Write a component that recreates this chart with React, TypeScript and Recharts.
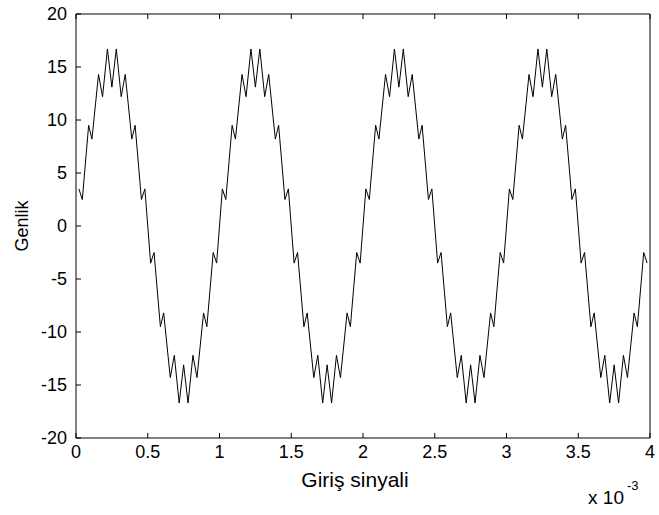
import React from 'react';
import { LineChart, Line, XAxis, YAxis } from 'recharts';

// time in units of 1e-3 s
const TIMES = [
  0.020, 0.044, 0.088, 0.111, 0.157, 0.185, 0.219, 0.250, 0.281, 0.315, 0.343, 0.389, 0.412, 0.456, 0.480,
  0.520, 0.544, 0.588, 0.611, 0.657, 0.685, 0.719, 0.750, 0.781, 0.815, 0.843, 0.889, 0.912, 0.956, 0.980,
  1.020, 1.044, 1.088, 1.111, 1.157, 1.185, 1.219, 1.250, 1.281, 1.315, 1.343, 1.389, 1.412, 1.456, 1.480,
  1.520, 1.544, 1.588, 1.611, 1.657, 1.685, 1.719, 1.750, 1.781, 1.815, 1.843, 1.889, 1.912, 1.956, 1.980,
  2.020, 2.044, 2.088, 2.111, 2.157, 2.185, 2.219, 2.250, 2.281, 2.315, 2.343, 2.389, 2.412, 2.456, 2.480,
  2.520, 2.544, 2.588, 2.611, 2.657, 2.685, 2.719, 2.750, 2.781, 2.815, 2.843, 2.889, 2.912, 2.956, 2.980,
  3.020, 3.044, 3.088, 3.111, 3.157, 3.185, 3.219, 3.250, 3.281, 3.315, 3.343, 3.389, 3.412, 3.456, 3.480,
  3.520, 3.544, 3.588, 3.611, 3.657, 3.685, 3.719, 3.750, 3.781, 3.815, 3.843, 3.889, 3.912, 3.956, 3.980,
];

const AMPLITUDES = [
  3.5, 2.5, 9.5, 8.2, 14.3, 12.2, 16.7, 13.1, 16.7, 12.2, 14.3, 8.2, 9.5, 2.5, 3.5,
  -3.5, -2.5, -9.5, -8.2, -14.3, -12.2, -16.7, -13.1, -16.7, -12.2, -14.3, -8.2, -9.5, -2.5, -3.5,
  3.5, 2.5, 9.5, 8.2, 14.3, 12.2, 16.7, 13.1, 16.7, 12.2, 14.3, 8.2, 9.5, 2.5, 3.5,
  -3.5, -2.5, -9.5, -8.2, -14.3, -12.2, -16.7, -13.1, -16.7, -12.2, -14.3, -8.2, -9.5, -2.5, -3.5,
  3.5, 2.5, 9.5, 8.2, 14.3, 12.2, 16.7, 13.1, 16.7, 12.2, 14.3, 8.2, 9.5, 2.5, 3.5,
  -3.5, -2.5, -9.5, -8.2, -14.3, -12.2, -16.7, -13.1, -16.7, -12.2, -14.3, -8.2, -9.5, -2.5, -3.5,
  3.5, 2.5, 9.5, 8.2, 14.3, 12.2, 16.7, 13.1, 16.7, 12.2, 14.3, 8.2, 9.5, 2.5, 3.5,
  -3.5, -2.5, -9.5, -8.2, -14.3, -12.2, -16.7, -13.1, -16.7, -12.2, -14.3, -8.2, -9.5, -2.5, -3.5,
];

const X_TICKS = [0, 0.5, 1, 1.5, 2, 2.5, 3, 3.5, 4];
const Y_TICKS = [-20, -15, -10, -5, 0, 5, 10, 15, 20];

const data = TIMES.map((t, i) => ({ t, v: AMPLITUDES[i] }));

const FONT = 'Liberation Sans, Arial, sans-serif';
const TICK_FONT = { fontSize: 18, fontFamily: FONT, fill: '#000' };
const AXIS_LINE = { stroke: '#000', strokeWidth: 1 };
const TICK_LINE = { stroke: '#000', strokeWidth: 1 };
// negative tick size turns the tick marks inward, like a matlab box
const TICK_LEN = 5;
const INWARD = -TICK_LEN;
const NoLabel = () => <g />;

const XLabel = (props: any) => {
  const { viewBox } = props;
  const right = viewBox.x + viewBox.width;
  return (
    <g fontFamily={FONT} fill="#000">
      <text x={355} y={viewBox.y + 49} textAnchor="middle" fontSize={21}>Giriş sinyali</text>
      <text x={right - 26} y={viewBox.y + 66} textAnchor="end" fontSize={19}>x 10</text>
      <text x={right - 23} y={viewBox.y + 52} textAnchor="start" fontSize={13}>-3</text>
    </g>
  );
};

const YLabel = (props: any) => {
  const { viewBox } = props;
  const cy = viewBox.y + viewBox.height / 2;
  return (
    <text
      x={22}
      y={cy}
      transform={`rotate(-90 22 ${cy})`}
      textAnchor="middle"
      dominantBaseline="central"
      fontSize={18}
      fontFamily={FONT}
      fill="#000"
    >
      Genlik
    </text>
  );
};

export default function App() {
  return (
    <div style={{ position: 'absolute', left: 0, top: 0, width: 659, height: 515, background: '#fff' }}>
      <LineChart width={659} height={515} data={data} margin={{ top: 13, right: 8, bottom: 0, left: 0 }}>
        <XAxis
          dataKey="t"
          type="number"
          domain={[0, 4]}
          ticks={X_TICKS}
          interval={0}
          axisLine={AXIS_LINE}
          tickLine={TICK_LINE}
          tickSize={INWARD}
          tickMargin={7 + TICK_LEN}
          height={77}
          tick={TICK_FONT}
          label={<XLabel />}
        />
        <XAxis
          xAxisId="top"
          orientation="top"
          dataKey="t"
          type="number"
          domain={[0, 4]}
          ticks={X_TICKS}
          interval={0}
          axisLine={AXIS_LINE}
          tickLine={TICK_LINE}
          tickSize={INWARD}
          height={1}
          tick={<NoLabel />}
        />
        <YAxis
          type="number"
          domain={[-20, 20]}
          ticks={Y_TICKS}
          interval={0}
          width={76}
          axisLine={AXIS_LINE}
          tickLine={TICK_LINE}
          tickSize={INWARD}
          tickMargin={9 + TICK_LEN}
          tick={TICK_FONT}
          label={<YLabel />}
        />
        <YAxis
          yAxisId="right"
          orientation="right"
          type="number"
          domain={[-20, 20]}
          ticks={Y_TICKS}
          interval={0}
          width={1}
          axisLine={AXIS_LINE}
          tickLine={TICK_LINE}
          tickSize={INWARD}
          tick={<NoLabel />}
        />
        <Line
          type="linear"
          dataKey="v"
          stroke="#000"
          strokeWidth={1}
          dot={false}
          isAnimationActive={false}
        />
      </LineChart>
    </div>
  );
}
